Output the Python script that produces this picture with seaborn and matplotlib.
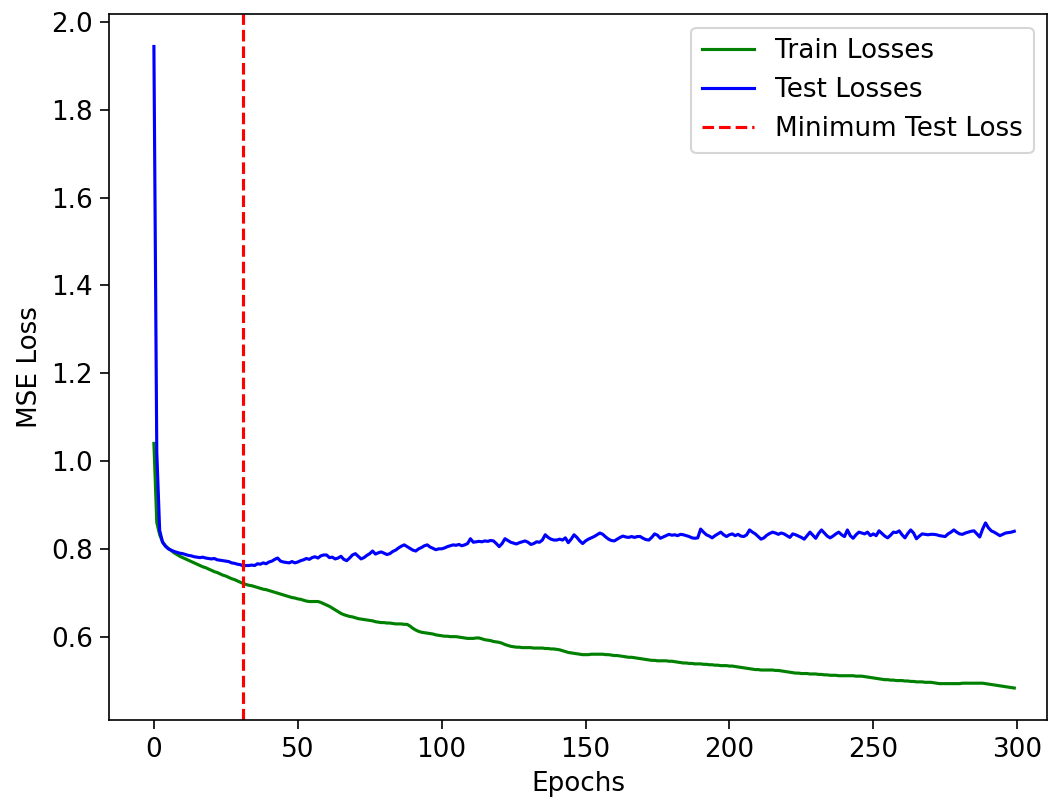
import numpy as np
import matplotlib
matplotlib.use("Agg")
import matplotlib.pyplot as plt
import seaborn as sns

train_losses = [
    1.040, 0.860, 0.832, 0.816, 0.807, 0.801, 0.796, 0.791, 0.787, 0.783,
    0.780, 0.777, 0.774, 0.771, 0.768, 0.765, 0.762, 0.759, 0.757, 0.754,
    0.751, 0.748, 0.746, 0.743, 0.740, 0.738, 0.735, 0.732, 0.730, 0.727,
    0.724, 0.721, 0.719, 0.717, 0.716, 0.714, 0.712, 0.710, 0.708, 0.707,
    0.705, 0.703, 0.701, 0.699, 0.697, 0.695, 0.693, 0.691, 0.689, 0.688,
    0.686, 0.685, 0.683, 0.681, 0.680, 0.680, 0.680, 0.680, 0.678, 0.675,
    0.672, 0.669, 0.665, 0.661, 0.657, 0.653, 0.650, 0.648, 0.646, 0.645,
    0.643, 0.641, 0.640, 0.639, 0.638, 0.637, 0.636, 0.634, 0.633, 0.632,
    0.632, 0.631, 0.631, 0.630, 0.629, 0.629, 0.629, 0.628, 0.628, 0.624,
    0.619, 0.615, 0.612, 0.610, 0.609, 0.608, 0.607, 0.606, 0.604, 0.603,
    0.602, 0.601, 0.601, 0.600, 0.600, 0.600, 0.599, 0.598, 0.597, 0.596,
    0.596, 0.596, 0.597, 0.597, 0.595, 0.593, 0.592, 0.591, 0.589, 0.588,
    0.587, 0.585, 0.582, 0.580, 0.578, 0.577, 0.576, 0.576, 0.575, 0.575,
    0.575, 0.575, 0.574, 0.574, 0.574, 0.574, 0.573, 0.573, 0.572, 0.572,
    0.571, 0.570, 0.568, 0.566, 0.564, 0.563, 0.562, 0.561, 0.560, 0.559,
    0.559, 0.559, 0.560, 0.560, 0.560, 0.560, 0.560, 0.559, 0.559, 0.558,
    0.557, 0.557, 0.556, 0.555, 0.554, 0.553, 0.553, 0.552, 0.551, 0.550,
    0.549, 0.548, 0.547, 0.546, 0.546, 0.545, 0.545, 0.545, 0.545, 0.544,
    0.544, 0.543, 0.542, 0.541, 0.540, 0.540, 0.539, 0.539, 0.538, 0.538,
    0.538, 0.537, 0.537, 0.536, 0.536, 0.535, 0.535, 0.534, 0.534, 0.534,
    0.533, 0.533, 0.532, 0.531, 0.530, 0.529, 0.528, 0.527, 0.526, 0.525,
    0.525, 0.524, 0.524, 0.524, 0.524, 0.524, 0.523, 0.523, 0.522, 0.521,
    0.520, 0.519, 0.518, 0.517, 0.517, 0.516, 0.516, 0.516, 0.515, 0.515,
    0.515, 0.514, 0.514, 0.513, 0.513, 0.512, 0.512, 0.512, 0.511, 0.511,
    0.511, 0.511, 0.511, 0.511, 0.510, 0.510, 0.510, 0.509, 0.508, 0.507,
    0.506, 0.505, 0.504, 0.503, 0.502, 0.502, 0.501, 0.501, 0.500, 0.500,
    0.500, 0.499, 0.499, 0.498, 0.498, 0.497, 0.497, 0.497, 0.496, 0.496,
    0.496, 0.495, 0.494, 0.493, 0.493, 0.493, 0.493, 0.493, 0.493, 0.493,
    0.493, 0.494, 0.494, 0.494, 0.494, 0.494, 0.494, 0.494, 0.494, 0.493,
    0.492, 0.491, 0.490, 0.489, 0.488, 0.487, 0.486, 0.485, 0.484, 0.483,
]

test_losses = [
    1.944, 1.020, 0.842, 0.815, 0.806, 0.800, 0.797, 0.794, 0.792, 0.790,
    0.789, 0.787, 0.785, 0.784, 0.782, 0.781, 0.780, 0.781, 0.779, 0.778,
    0.777, 0.778, 0.775, 0.774, 0.773, 0.772, 0.771, 0.768, 0.767, 0.765,
    0.764, 0.761, 0.762, 0.762, 0.763, 0.762, 0.766, 0.765, 0.768, 0.766,
    0.770, 0.772, 0.776, 0.779, 0.772, 0.770, 0.769, 0.768, 0.771, 0.768,
    0.770, 0.773, 0.775, 0.778, 0.776, 0.780, 0.782, 0.779, 0.784, 0.786,
    0.786, 0.780, 0.781, 0.777, 0.779, 0.783, 0.776, 0.773, 0.779, 0.786,
    0.789, 0.783, 0.777, 0.780, 0.785, 0.789, 0.795, 0.788, 0.791, 0.793,
    0.790, 0.787, 0.789, 0.794, 0.797, 0.802, 0.806, 0.809, 0.805, 0.801,
    0.797, 0.795, 0.800, 0.803, 0.807, 0.809, 0.804, 0.801, 0.798, 0.800,
    0.800, 0.802, 0.805, 0.807, 0.809, 0.808, 0.810, 0.807, 0.809, 0.812,
    0.823, 0.815, 0.816, 0.817, 0.816, 0.818, 0.817, 0.819, 0.818, 0.812,
    0.805, 0.812, 0.823, 0.819, 0.815, 0.813, 0.811, 0.814, 0.816, 0.818,
    0.815, 0.810, 0.812, 0.816, 0.815, 0.820, 0.832, 0.826, 0.822, 0.820,
    0.820, 0.822, 0.820, 0.825, 0.814, 0.822, 0.832, 0.826, 0.818, 0.812,
    0.818, 0.822, 0.825, 0.828, 0.832, 0.836, 0.833, 0.827, 0.822, 0.819,
    0.818, 0.822, 0.826, 0.829, 0.827, 0.826, 0.828, 0.826, 0.828, 0.828,
    0.824, 0.821, 0.820, 0.826, 0.834, 0.831, 0.824, 0.827, 0.830, 0.833,
    0.831, 0.832, 0.830, 0.833, 0.832, 0.830, 0.828, 0.825, 0.824, 0.825,
    0.845, 0.838, 0.832, 0.829, 0.825, 0.830, 0.834, 0.838, 0.832, 0.828,
    0.832, 0.834, 0.830, 0.833, 0.829, 0.828, 0.832, 0.843, 0.838, 0.834,
    0.828, 0.822, 0.825, 0.831, 0.835, 0.838, 0.836, 0.833, 0.836, 0.834,
    0.830, 0.826, 0.834, 0.832, 0.829, 0.826, 0.822, 0.830, 0.838, 0.831,
    0.824, 0.835, 0.843, 0.836, 0.829, 0.825, 0.829, 0.834, 0.838, 0.832,
    0.828, 0.843, 0.830, 0.824, 0.832, 0.838, 0.836, 0.834, 0.838, 0.830,
    0.834, 0.830, 0.841, 0.835, 0.829, 0.825, 0.831, 0.838, 0.837, 0.841,
    0.832, 0.825, 0.835, 0.843, 0.836, 0.823, 0.829, 0.834, 0.833, 0.832,
    0.833, 0.833, 0.832, 0.830, 0.829, 0.828, 0.834, 0.838, 0.843, 0.838,
    0.834, 0.833, 0.836, 0.838, 0.840, 0.841, 0.834, 0.827, 0.845, 0.859,
    0.848, 0.841, 0.838, 0.834, 0.830, 0.833, 0.836, 0.837, 0.838, 0.840,
]

epochs = np.arange(len(train_losses))
min_epoch = int(np.argmin(test_losses))

plt.rcParams["font.size"] = 12.6
plt.rcParams["xtick.major.size"] = 4.4
plt.rcParams["ytick.major.size"] = 4.4

fig, ax = plt.subplots(figsize=(1051 / 150, 801 / 150), dpi=150)
fig.subplots_adjust(left=0.104, right=0.996, top=0.982, bottom=0.101)

sns.lineplot(x=epochs, y=train_losses, color="green", label="Train Losses", ax=ax)
sns.lineplot(x=epochs, y=test_losses, color="blue", label="Test Losses", ax=ax)
ax.axvline(min_epoch, color="red", linestyle="--", label="Minimum Test Loss")

ax.set_xlim(-15.5, 310.3)
ax.set_xlabel("Epochs")
ax.set_ylabel("MSE Loss")
ax.legend(loc="upper right")

fig.savefig("out.png", dpi=150)
